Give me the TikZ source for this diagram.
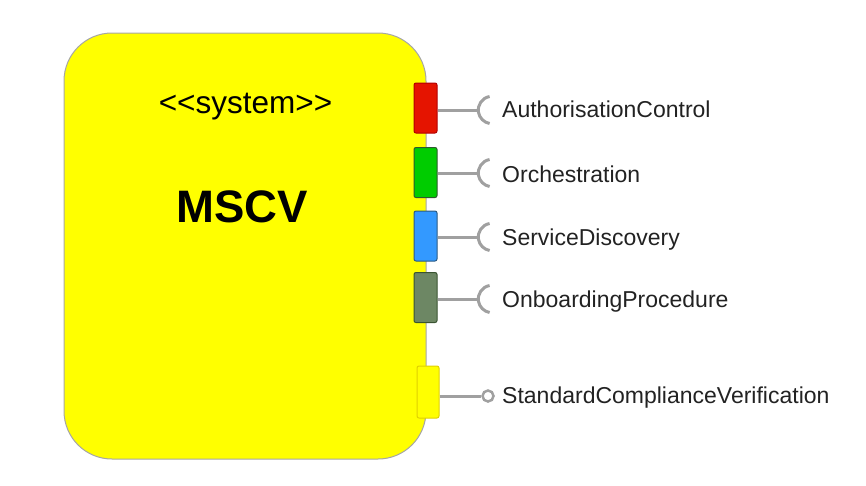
\documentclass[tikz,border=0pt]{standalone}
\usepackage{fontspec}
\setmainfont{Liberation Sans}
\definecolor{wire}{HTML}{A0A0A0}
\definecolor{txt}{HTML}{222222}
\definecolor{redf}{HTML}{E51400}\definecolor{redd}{HTML}{B20000}
\definecolor{grnf}{HTML}{00CC00}\definecolor{grnd}{HTML}{2D5A2D}
\definecolor{bluf}{HTML}{3399FF}\definecolor{blud}{HTML}{2B5B84}
\definecolor{olvf}{HTML}{6D8764}\definecolor{olvd}{HTML}{3A5431}
\definecolor{yelf}{HTML}{FFFF00}\definecolor{yeld}{HTML}{E0D000}
\begin{document}
\begin{tikzpicture}[x=1pt,y=-1pt,
  portbox/.style={rectangle,rounded corners=2pt,line width=1pt,minimum width=23pt,minimum height=50pt,inner sep=0pt},
  wireline/.style={wire,line width=3pt},
  lbl/.style={anchor=base west,inner sep=0pt,font=\fontsize{23}{26}\selectfont,text=txt}]
\useasboundingbox (0,0) rectangle (866,485);
\node[draw=gray!70,line width=1pt,fill=yelf,rounded corners=48pt,minimum width=362pt,minimum height=426pt,inner sep=0pt] (sys) at (245,246) {};
\node[anchor=base,inner sep=0pt,font=\fontsize{31.5}{34}\selectfont] (st) at (245.5,113) {<{}<system>{}>};
\node[anchor=base,inner sep=0pt,font=\fontsize{45.5}{50}\selectfont\bfseries] (name) at (242,222) {MSCV};
% ports
\node[portbox,draw=redd,fill=redf] (p1) at (425.5,108) {};
\node[portbox,draw=grnd,fill=grnf] (p2) at (425.5,172.5) {};
\node[portbox,draw=blud,fill=bluf] (p3) at (425.5,236) {};
\node[portbox,draw=olvd,fill=olvf] (p4) at (425.5,297.5) {};
\node[portbox,draw=yeld,fill=yelf,minimum width=22pt,minimum height=52pt] (p5) at (428,392) {};
% sockets
\coordinate (s1) at (478,110);
\coordinate (s2) at (478,173);
\coordinate (s3) at (478,237);
\coordinate (s4) at (478,299);
\foreach \i in {1,2,3,4}{
  \draw[wireline] (p\i.east |- s\i) -- (s\i);
  \draw[wireline] (s\i) ++(11.6,-13.5) arc[start angle=-100,end angle=-260,radius=13.7];
}
\node[circle,draw=wire,line width=2.5pt,fill=white,minimum size=11pt,inner sep=0pt] (c5) at (488,396) {};
\draw[wireline] (p5.east |- c5) -- (c5.west);
\node[lbl] (l1) at (502,117) {AuthorisationControl};
\node[lbl] (l2) at (502,182) {Orchestration};
\node[lbl] (l3) at (502,245) {ServiceDiscovery};
\node[lbl] (l4) at (502,307) {OnboardingProcedure};
\node[lbl] (l5) at (502,403) {StandardComplianceVerification};
\end{tikzpicture}
\end{document}
